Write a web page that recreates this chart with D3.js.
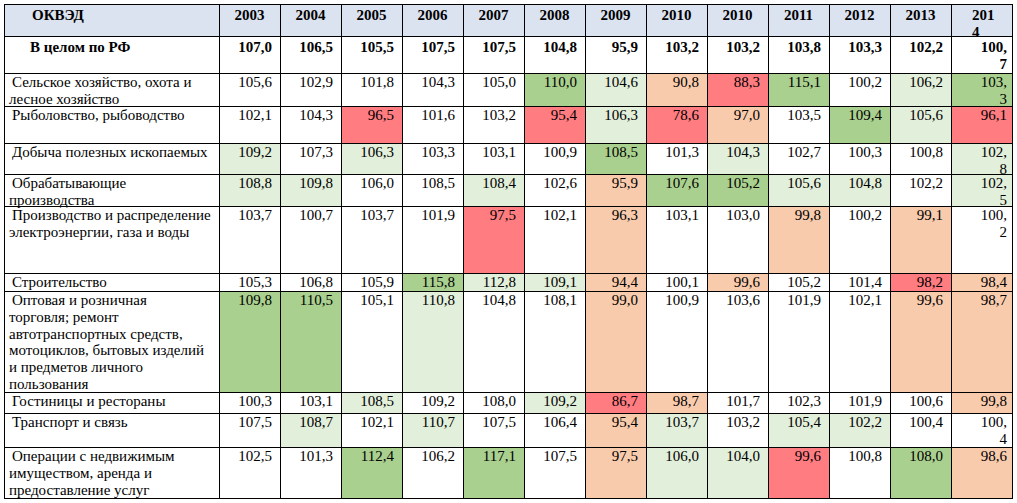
<!DOCTYPE html>
<html>
<head>
<meta charset="utf-8">
<script src="https://d3js.org/d3.v7.min.js"></script>
<style>
  body { margin: 0; background: #fff; }
</style>
</head>
<body>
<div class="vis"></div>
<script>
  // data
  var years = ["2003", "2004", "2005", "2006", "2007", "2008", "2009", "2010", "2010", "2011", "2012", "2013", "2014"];

  var labels = [
    ["В целом по РФ"],
    ["Сельское хозяйство, охота и", "лесное хозяйство"],
    ["Рыболовство, рыбоводство"],
    ["Добыча полезных ископаемых"],
    ["Обрабатывающие", "производства"],
    ["Производство и распределение", "электроэнергии, газа и воды"],
    ["Строительство"],
    ["Оптовая и розничная", "торговля; ремонт", "автотранспортных средств,", "мотоциклов, бытовых изделий", "и предметов личного", "пользования"],
    ["Гостиницы и рестораны"],
    ["Транспорт и связь"],
    ["Операции с недвижимым", "имуществом, аренда и", "предоставление услуг"]
  ];

  var total     = [107.0, 106.5, 105.5, 107.5, 107.5, 104.8, 95.9, 103.2, 103.2, 103.8, 103.3, 102.2, 100.7];
  var agro      = [105.6, 102.9, 101.8, 104.3, 105.0, 110.0, 104.6, 90.8, 88.3, 115.1, 100.2, 106.2, 103.3];
  var fishing   = [102.1, 104.3, 96.5, 101.6, 103.2, 95.4, 106.3, 78.6, 97.0, 103.5, 109.4, 105.6, 96.1];
  var mining    = [109.2, 107.3, 106.3, 103.3, 103.1, 100.9, 108.5, 101.3, 104.3, 102.7, 100.3, 100.8, 102.8];
  var manufact  = [108.8, 109.8, 106.0, 108.5, 108.4, 102.6, 95.9, 107.6, 105.2, 105.6, 104.8, 102.2, 102.5];
  var utilities = [103.7, 100.7, 103.7, 101.9, 97.5, 102.1, 96.3, 103.1, 103.0, 99.8, 100.2, 99.1, 100.2];
  var building  = [105.3, 106.8, 105.9, 115.8, 112.8, 109.1, 94.4, 100.1, 99.6, 105.2, 101.4, 98.2, 98.4];
  var trade     = [109.8, 110.5, 105.1, 110.8, 104.8, 108.1, 99.0, 100.9, 103.6, 101.9, 102.1, 99.6, 98.7];
  var hotels    = [100.3, 103.1, 108.5, 109.2, 108.0, 109.2, 86.7, 98.7, 101.7, 102.3, 101.9, 100.6, 99.8];
  var transport = [107.5, 108.7, 102.1, 110.7, 107.5, 106.4, 95.4, 103.7, 103.2, 105.4, 102.2, 100.4, 100.4];
  var realty    = [102.5, 101.3, 112.4, 106.2, 117.1, 107.5, 97.5, 106.0, 104.0, 99.6, 100.8, 108.0, 98.6];

  // highlight class per cell: G strong green, g light green, s salmon, r red, w none
  var marks = [
    "wwwwwwwwwwwww",
    "wwwwwGgsrGwgG",
    "wwrwwrgrswGgr",
    "gwgwwwGwgwwwg",
    "ggwwgwsGGggwg",
    "wwwwrwswwswsw",
    "wwwGggswswwrs",
    "GGwgwwswwwwss",
    "wwgwwgrswwwws",
    "wgwgwwsgwggww",
    "wwGwGwsggrwGs"
  ];

  var rows = [total, agro, fishing, mining, manufact, utilities, building, trade, hotels, transport, realty];

  // layout
  var W = 1017, H = 503;
  var left = 4, labelRight = 219, right = 1012;
  var rowEdges = [4, 36, 73, 106, 143, 174, 206, 273, 291, 392, 413, 447, 498];
  var fills = { G: "#a9d08e", g: "#e2efda", s: "#f8cbad", r: "#ff7c80", w: "#ffffff" };
  var fontSize = 15, lineH = 16.8;
  var serif = "'Liberation Serif', 'Times New Roman', Times, serif";

  var svg = d3.select('.vis').append('svg')
    .attr('width', W)
    .attr('height', H)
    .attr('font-family', serif)
    .style('font-family', serif);

  var x = d3.scaleBand()
    .domain(d3.range(years.length))
    .range([labelRight, right])
    .paddingInner(0);

  var fmt = function (v) { return d3.format(".1f")(v).replace(".", ","); };

  // header
  svg.append('rect')
    .attr('x', left).attr('y', rowEdges[0])
    .attr('width', right - left).attr('height', rowEdges[1] - rowEdges[0])
    .attr('fill', '#dbe2f0');

  // cell backgrounds
  rows.forEach(function (vals, r) {
    vals.forEach(function (v, c) {
      var k = marks[r][c];
      if (k === "w") return;
      svg.append('rect')
        .attr('x', x(c)).attr('y', rowEdges[r + 1])
        .attr('width', x.bandwidth()).attr('height', rowEdges[r + 2] - rowEdges[r + 1])
        .attr('fill', fills[k]);
    });
  });

  // header texts
  svg.append('text')
    .attr('x', 32).attr('y', rowEdges[0] + 16)
    .attr('font-size', fontSize).attr('font-weight', 'bold')
    .text('ОКВЭД');

  years.forEach(function (y, c) {
    var last = c === years.length - 1;
    if (!last) {
      svg.append('text')
        .attr('x', x(c) + x.bandwidth() / 2).attr('y', rowEdges[0] + 16)
        .attr('text-anchor', 'middle')
        .attr('font-size', fontSize).attr('font-weight', 'bold')
        .text(y);
    } else {
      svg.append('text')
        .attr('x', x(c) + 21).attr('y', rowEdges[0] + 16)
        .attr('font-size', fontSize).attr('font-weight', 'bold')
        .text(y.slice(0, 3));
      svg.append('text')
        .attr('x', x(c) + 21).attr('y', rowEdges[0] + 16 + lineH)
        .attr('font-size', fontSize).attr('font-weight', 'bold')
        .text(y.slice(3));
    }
  });

  // row labels
  labels.forEach(function (lines, r) {
    var bold = r === 0;
    var top = rowEdges[r + 1];
    lines.forEach(function (line, i) {
      svg.append('text')
        .attr('x', bold ? 30 : (i === 0 ? 12 : 9))
        .attr('y', top + (bold ? 16 : 14) + i * lineH)
        .attr('font-size', fontSize)
        .attr('font-weight', bold ? 'bold' : 'normal')
        .text(line);
    });
  });

  // values
  rows.forEach(function (vals, r) {
    var bold = r === 0;
    var top = rowEdges[r + 1];
    vals.forEach(function (v, c) {
      var s = fmt(v);
      var last = c === years.length - 1;
      var xr = x(c) + x.bandwidth() - (last ? 5 : 8);
      var base = top + (bold ? 16 : 14);
      var parts = [s];
      if (last && s.length > 4) {
        var k = s.indexOf(",") + 1;
        parts = [s.slice(0, k), s.slice(k)];
      }
      parts.forEach(function (p, i) {
        svg.append('text')
          .attr('x', xr).attr('y', base + i * lineH)
          .attr('text-anchor', 'end')
          .attr('font-size', fontSize)
          .attr('font-weight', bold ? 'bold' : 'normal')
          .text(p);
      });
    });
  });

  // grid lines
  var vx = [left, labelRight].concat(d3.range(1, years.length).map(function (c) { return x(c); })).concat([right]);
  svg.selectAll('line.v')
    .data(vx)
    .enter().append('line')
    .attr('class', 'v')
    .attr('x1', function (d) { return Math.round(d) + 0.5; })
    .attr('x2', function (d) { return Math.round(d) + 0.5; })
    .attr('y1', rowEdges[0])
    .attr('y2', rowEdges[rowEdges.length - 1] + 1)
    .attr('stroke', '#000')
    .attr('stroke-width', 1);

  svg.selectAll('line.h')
    .data(rowEdges)
    .enter().append('line')
    .attr('class', 'h')
    .attr('x1', left)
    .attr('x2', right + 1)
    .attr('y1', function (d) { return d + 0.5; })
    .attr('y2', function (d) { return d + 0.5; })
    .attr('stroke', '#000')
    .attr('stroke-width', 1);
</script>
</body>
</html>
